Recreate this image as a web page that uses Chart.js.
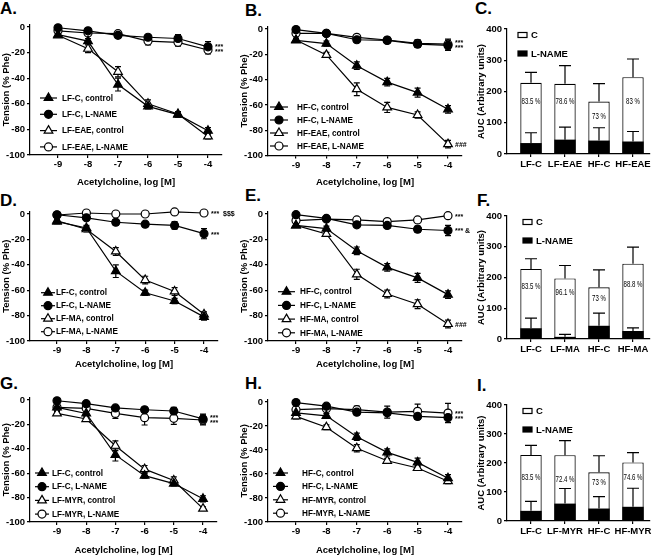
<!DOCTYPE html>
<html>
<head>
<meta charset="utf-8">
<script src="https://cdn.jsdelivr.net/npm/chart.js@4.4.1/dist/chart.umd.min.js"></script>
<style>
  body { margin: 0; background: #fff; width: 658px; height: 556px; position: relative; overflow: hidden; }
  canvas { position: absolute; }
  .lbl { position: absolute; font: bold 17px "Liberation Sans", Arial, sans-serif; line-height: 17px; color: #000; }
</style>
</head>
<body>
<div class="lbl" style="left:0;top:0">A.</div>
<div class="lbl" style="left:245px;top:2px">B.</div>
<div class="lbl" style="left:475px;top:0">C.</div>
<div class="lbl" style="left:0;top:192px">D.</div>
<div class="lbl" style="left:245px;top:187px">E.</div>
<div class="lbl" style="left:477px;top:192px">F.</div>
<div class="lbl" style="left:0;top:375px">G.</div>
<div class="lbl" style="left:245px;top:375px">H.</div>
<div class="lbl" style="left:477px;top:377px">I.</div>

<canvas id="cA"></canvas><canvas id="cB"></canvas><canvas id="cC"></canvas>
<canvas id="cD"></canvas><canvas id="cE"></canvas><canvas id="cF"></canvas>
<canvas id="cG"></canvas><canvas id="cH"></canvas><canvas id="cI"></canvas>

<script>
// Acetylcholine doses, log [M]
const doses = [-9, -8, -7, -6, -5, -4];
const tensionTicks = [0, -20, -40, -60, -80, -100];

// tension (% Phe), mean and SEM
const lfcCtrl = [-6, -11, -45, -62, -68.5, -81];
const lfcCtrlErr = [1.5, 2, 5, 2, 2, 2.5];
const lfcLname = [-0.6, -3, -6.5, -8, -9, -15.5];
const lfcLnameErr = [1.5, 1.5, 2, 2, 3, 4];
const hfcCtrl = [-9, -11.5, -29, -42, -50.3, -63.5];
const hfcCtrlErr = [1.5, 2, 3, 3, 3.5, 3];
const hfcLname = [-0.5, -3.5, -8.5, -9, -12, -13];
const hfcLnameErr = [1.5, 1.5, 2, 2, 2.5, 4];

const lfEaeCtrl = [-6.5, -17, -35, -60, -68, -85.5];
const lfEaeCtrlErr = [1.5, 3, 4, 3, 2, 2];
const lfEaeLname = [-3, -4.7, -5.2, -11, -12, -18];
const lfEaeLnameErr = [1, 1.5, 2, 3, 3, 3];
const hfEaeCtrl = [-8.7, -20.5, -47.6, -62, -68, -91];
const hfEaeCtrlErr = [1.5, 2, 5, 4, 2.5, 3];
const hfEaeLname = [-3.4, -3.4, -6.6, -8.7, -11.3, -12];
const hfEaeLnameErr = [1, 1.5, 2, 2, 3, 4];

const lfMaCtrl = [-5.3, -12, -29.5, -52, -61, -79];
const lfMaCtrlErr = [1.5, 2, 3, 3, 3, 2];
const lfMaLname = [-0.8, 0.8, 0, 0, 1.6, 0.8];
const lfMaLnameErr = [1, 1, 1, 1, 1, 1.5];
const hfMaCtrl = [-9, -15.7, -47.5, -63, -71, -86.6];
const hfMaCtrlErr = [1.5, 2, 4, 3, 3.5, 3];
const hfMaLname = [-5.2, -4, -4.7, -6, -4.7, -1.3];
const hfMaLnameErr = [1, 1, 1.5, 1.5, 1.5, 1.5];

const lfMyrCtrl = [-11, -15.6, -37.5, -56.7, -66, -89];
const lfMyrCtrlErr = [1.5, 1.5, 4, 3, 3, 1.5];
const lfMyrLname = [-6, -6.8, -11, -14.5, -15, -16.4];
const lfMyrLnameErr = [1.5, 2, 4, 6, 5, 4];
const hfMyrCtrl = [-12, -21, -38.5, -49, -55, -66];
const hfMyrCtrlErr = [2, 2, 3, 2, 2, 2];
const hfMyrLname = [-6.4, -5.6, -6.4, -8.4, -7.8, -9.2];
const hfMyrLnameErr = [2, 2, 3, 5, 6, 8];

// AUC (arbitrary units)
const aucTicks = [0, 100, 200, 300, 400];
const catsC = ['LF-C', 'LF-EAE', 'HF-C', 'HF-EAE'];
const totC = [228, 225, 168, 246];
const totCErr = [33, 58, 57, 58];
const lnC = [35, 46, 43, 40];
const lnCErr = [33, 40, 41, 32];
const pctC = ['83.5 %', '78.6 %', '73 %', '83 %'];

const catsF = ['LF-C', 'LF-MA', 'HF-C', 'HF-MA'];
const totF = [228, 197, 168, 245];
const totFErr = [33, 42, 57, 54];
const lnF = [35, 7, 43, 26];
const lnFErr = [33, 8, 41, 10];
const pctF = ['83.5 %', '96.1 %', '73 %', '88.8 %'];

const catsI = ['LF-C', 'LF-MYR', 'HF-C', 'HF-MYR'];
const totI = [228, 227, 168, 202];
const totIErr = [33, 50, 57, 34];
const lnI = [35, 60, 43, 49];
const lnIErr = [33, 52, 41, 64];
const pctI = ['83.5 %', '72.4 %', '73 %', '74.6 %'];

const family = '"Liberation Sans", Arial, sans-serif';
Chart.defaults.font.family = family;
Chart.defaults.color = '#000';

function fnt(size, bold) {
  return { family: family, size: size, weight: bold ? 'bold' : 'normal', lineHeight: 1.2 };
}

function marker(ctx, style, fill, x, y) {
  ctx.beginPath();
  if (style === 'triangle') {
    const r = 5;
    ctx.moveTo(x, y - r);
    ctx.lineTo(x + r * 0.866, y + r * 0.5);
    ctx.lineTo(x - r * 0.866, y + r * 0.5);
    ctx.closePath();
  } else {
    ctx.arc(x, y, 4, 0, Math.PI * 2);
  }
  ctx.fillStyle = fill ? '#000' : '#fff';
  ctx.fill();
  ctx.lineWidth = 1.2;
  ctx.strokeStyle = '#000';
  ctx.stroke();
}

function lineChart(id, g, series, marks, leg) {
  const kx = (g.x4 - g.x9) / 5, ky = (g.y100 - g.y0) / 100;
  const right = g.x4 + 14;
  const top = g.y0 - 2 * ky;
  const cl = g.axisLeft - 30, ct = g.y0 - 32;
  const cw = right + 32 - cl, ch = g.titleY + 6 - ct;
  const cv = document.getElementById(id);
  cv.width = cw; cv.height = ch;
  cv.style.left = cl + 'px'; cv.style.top = ct + 'px';

  const extras = {
    id: 'extras',
    beforeDatasetsDraw(chart) {
      const ctx = chart.ctx, xs = chart.scales.x, ys = chart.scales.y;
      ctx.save();
      ctx.strokeStyle = '#000';
      ctx.lineWidth = 1.2;
      series.forEach(s => {
        doses.forEach((d, j) => {
          const x = xs.getPixelForValue(d);
          const y1 = ys.getPixelForValue(s.y[j] - s.err[j]);
          const y2 = ys.getPixelForValue(s.y[j] + s.err[j]);
          ctx.beginPath();
          ctx.moveTo(x, y1); ctx.lineTo(x, y2);
          ctx.moveTo(x - 3, y1); ctx.lineTo(x + 3, y1);
          ctx.moveTo(x - 3, y2); ctx.lineTo(x + 3, y2);
          ctx.stroke();
        });
      });
      ctx.restore();
    },
    afterDatasetsDraw(chart) {
      const ctx = chart.ctx, xs = chart.scales.x, ys = chart.scales.y;
      ctx.save();
      // legend inside plot
      series.forEach((s, k) => {
        const y = leg.ly + k * leg.dy - ct;
        const x1 = leg.lx - cl, x2 = leg.lx + leg.lw - cl;
        ctx.beginPath();
        ctx.moveTo(x1, y); ctx.lineTo(x2, y);
        ctx.lineWidth = 1.2; ctx.strokeStyle = '#000';
        ctx.stroke();
        marker(ctx, s.style, s.fill, (x1 + x2) / 2, y);
        ctx.fillStyle = '#000';
        ctx.font = 'bold 8.2px ' + family;
        ctx.textBaseline = 'middle';
        ctx.textAlign = 'left';
        ctx.fillText(s.label, leg.tx - cl, y + 0.5);
      });
      // significance marks beside the last dose
      const xEnd = xs.getPixelForValue(-4) + 7;
      const ms = marks.map(m => ({ text: m.text, y: ys.getPixelForValue(series[m.ds].y[5]) }))
        .sort((a, b) => a.y - b.y);
      for (let i = 1; i < ms.length; i++) {
        const gap = ms[i].y - ms[i - 1].y;
        if (gap < 5.5) {
          const d = (5.5 - gap) / 2;
          ms[i - 1].y -= d; ms[i].y += d;
        }
      }
      ctx.font = 'bold 7px ' + family;
      ctx.textBaseline = 'middle';
      ms.forEach(m => ctx.fillText(m.text, xEnd, m.y + 1));
      ctx.restore();
    }
  };

  new Chart(cv, {
    type: 'line',
    data: {
      datasets: series.map(s => ({
        label: s.label,
        data: doses.map((d, i) => ({ x: d, y: s.y[i] })),
        borderColor: '#000',
        borderWidth: 1.2,
        pointStyle: s.style,
        pointRadius: s.style === 'triangle' ? 5 : 4,
        pointBackgroundColor: s.fill ? '#000' : '#fff',
        pointBorderColor: '#000',
        pointBorderWidth: 1.2,
        tension: 0,
        clip: false
      }))
    },
    options: {
      responsive: false,
      animation: false,
      events: [],
      layout: { padding: { left: 0, top: top - ct, right: cl + cw - right, bottom: 0 } },
      plugins: { legend: { display: false }, tooltip: { enabled: false } },
      scales: {
        x: {
          type: 'linear',
          min: -9 - (g.x9 - g.axisLeft) / kx,
          max: -4 + 14 / kx,
          afterBuildTicks: s => { s.ticks = doses.map(v => ({ value: v })); },
          afterFit: s => { s.height = ct + ch - g.y100; },
          grid: { drawOnChartArea: false, tickLength: 3, color: '#000', lineWidth: 1.2 },
          border: { color: '#000', width: 1.2 },
          ticks: { font: fnt(9.5, true), color: '#000', padding: 1, maxRotation: 0 },
          title: { display: true, text: 'Acetylcholine, log [M]', font: fnt(9.5, true), color: '#000', padding: 0 }
        },
        y: {
          min: -100,
          max: 2,
          afterBuildTicks: s => { s.ticks = tensionTicks.map(v => ({ value: v })); },
          afterFit: s => { s.width = g.axisLeft - cl; },
          grid: { drawOnChartArea: false, tickLength: 3, color: '#000', lineWidth: 1.2 },
          border: { color: '#000', width: 1.2 },
          ticks: { font: fnt(9.5, true), color: '#000', padding: 2 },
          title: { display: true, text: 'Tension (% Phe)', font: fnt(9.5, true), color: '#000', padding: { top: 1, bottom: 0 } }
        }
      }
    },
    plugins: [extras]
  });
}

function barChart(id, g, cats, tot, totErr, ln, lnErr, pct) {
  const cl = 476, ct = g.y400 - 25, right = 650;
  const cw = 658 - cl, ch = g.y0 + 20 - ct;
  const kx = (633 - 531) / 3;
  const cv = document.getElementById(id);
  cv.width = cw; cv.height = ch;
  cv.style.left = cl + 'px'; cv.style.top = ct + 'px';

  const extras = {
    id: 'barExtras',
    afterDatasetsDraw(chart) {
      const ctx = chart.ctx, xs = chart.scales.x, ys = chart.scales.y;
      ctx.save();
      ctx.strokeStyle = '#000';
      ctx.lineWidth = 1.2;
      const bar = (i, v, e) => {
        const x = xs.getPixelForValue(i);
        const y1 = ys.getPixelForValue(v), y2 = ys.getPixelForValue(v + e);
        ctx.beginPath();
        ctx.moveTo(x, y1); ctx.lineTo(x, y2);
        ctx.moveTo(x - 6, y2); ctx.lineTo(x + 6, y2);
        ctx.stroke();
      };
      cats.forEach((c, i) => { bar(i, tot[i], totErr[i]); bar(i, ln[i], lnErr[i]); });
      // percentage labels, narrow type
      ctx.fillStyle = '#000';
      ctx.font = '9.5px ' + family;
      ctx.textAlign = 'center';
      ctx.textBaseline = 'middle';
      cats.forEach((c, i) => {
        ctx.save();
        ctx.translate(xs.getPixelForValue(i), ys.getPixelForValue(g.pctAt[i]));
        ctx.scale(0.64, 1);
        ctx.fillText(pct[i], 0, 0);
        ctx.restore();
      });
      // legend
      const ly = ys.top;
      [['C', '#fff'], ['L-NAME', '#000']].forEach((e, k) => {
        const y = ly + 6 + k * 18.5;
        const x = g.legX - cl;
        ctx.fillStyle = e[1];
        ctx.fillRect(x, y - 2.5, 9, 5);
        ctx.strokeRect(x, y - 2.5, 9, 5);
        ctx.fillStyle = '#000';
        ctx.font = 'bold 9.5px ' + family;
        ctx.textAlign = 'left';
        ctx.fillText(e[0], x + 13, y + 0.5);
      });
      ctx.restore();
    }
  };

  new Chart(cv, {
    type: 'bar',
    data: {
      datasets: [
        {
          label: 'C',
          data: tot.map((v, i) => ({ x: i, y: v })),
          backgroundColor: '#fff', borderColor: '#000', borderWidth: 1.2, borderSkipped: false,
          order: 1, grouped: false, barPercentage: 0.63, categoryPercentage: 1
        },
        {
          label: 'L-NAME',
          data: ln.map((v, i) => ({ x: i, y: v })),
          backgroundColor: '#000', borderColor: '#000', borderWidth: 0,
          order: 0, grouped: false, barPercentage: 0.63, categoryPercentage: 1
        }
      ]
    },
    options: {
      responsive: false,
      animation: false,
      events: [],
      layout: { padding: { left: 0, top: g.y400 - ct, right: cl + cw - right, bottom: 0 } },
      plugins: { legend: { display: false }, tooltip: { enabled: false } },
      scales: {
        x: {
          type: 'linear',
          offset: false,
          min: -(531 - 507) / kx,
          max: 3 + (right - 633) / kx,
          afterBuildTicks: s => { s.ticks = cats.map((c, i) => ({ value: i })); },
          afterFit: s => { s.height = ct + ch - g.y0; },
          grid: { drawOnChartArea: false, offset: false, tickLength: 3, color: '#000', lineWidth: 1.2 },
          border: { color: '#000', width: 1.2 },
          ticks: { font: fnt(9.5, true), color: '#000', padding: 2, maxRotation: 0, callback: v => cats[v] }
        },
        y: {
          min: 0,
          max: 400,
          afterBuildTicks: s => { s.ticks = aucTicks.map(v => ({ value: v })); },
          afterFit: s => { s.width = 507 - cl; },
          grid: { drawOnChartArea: false, tickLength: 3, color: '#000', lineWidth: 1.2 },
          border: { color: '#000', width: 1.2 },
          ticks: { font: fnt(9.5, true), color: '#000', padding: 2 },
          title: { display: true, text: 'AUC (Arbitrary units)', font: fnt(9.5, true), color: '#000', padding: 0 }
        }
      }
    },
    plugins: [extras]
  });
}

const S = (label, y, err, style, fill) => ({ label, y, err, style, fill });

lineChart('cA', { axisLeft: 30, x9: 58, x4: 208, y0: 27, y100: 155, titleY: 182 }, [
  S('LF-C, control', lfcCtrl, lfcCtrlErr, 'triangle', true),
  S('LF-C, L-NAME', lfcLname, lfcLnameErr, 'circle', true),
  S('LF-EAE, control', lfEaeCtrl, lfEaeCtrlErr, 'triangle', false),
  S('LF-EAE, L-NAME', lfEaeLname, lfEaeLnameErr, 'circle', false)
], [{ ds: 1, text: '***' }, { ds: 3, text: '***' }],
  { lx: 40, lw: 17, tx: 62, ly: 98, dy: 16.3 });

lineChart('cB', { axisLeft: 268, x9: 296, x4: 448, y0: 29, y100: 156, titleY: 182.5 }, [
  S('HF-C, control', hfcCtrl, hfcCtrlErr, 'triangle', true),
  S('HF-C, L-NAME', hfcLname, hfcLnameErr, 'circle', true),
  S('HF-EAE, control', hfEaeCtrl, hfEaeCtrlErr, 'triangle', false),
  S('HF-EAE, L-NAME', hfEaeLname, hfEaeLnameErr, 'circle', false)
], [{ ds: 1, text: '***' }, { ds: 3, text: '***' }, { ds: 2, text: '###' }],
  { lx: 270, lw: 18, tx: 297, ly: 107, dy: 13 });

lineChart('cD', { axisLeft: 30, x9: 57, x4: 204, y0: 214, y100: 341, titleY: 364 }, [
  S('LF-C, control', lfcCtrl, lfcCtrlErr, 'triangle', true),
  S('LF-C, L-NAME', lfcLname, lfcLnameErr, 'circle', true),
  S('LF-MA, control', lfMaCtrl, lfMaCtrlErr, 'triangle', false),
  S('LF-MA, L-NAME', lfMaLname, lfMaLnameErr, 'circle', false)
], [{ ds: 1, text: '***' }, { ds: 3, text: '***  $$$' }],
  { lx: 41, lw: 14, tx: 56, ly: 292.7, dy: 13 });

lineChart('cE', { axisLeft: 268, x9: 296, x4: 448, y0: 214, y100: 341, titleY: 364 }, [
  S('HF-C, control', hfcCtrl, hfcCtrlErr, 'triangle', true),
  S('HF-C, L-NAME', hfcLname, hfcLnameErr, 'circle', true),
  S('HF-MA, control', hfMaCtrl, hfMaCtrlErr, 'triangle', false),
  S('HF-MA, L-NAME', hfMaLname, hfMaLnameErr, 'circle', false)
], [{ ds: 1, text: '*** &' }, { ds: 3, text: '***' }, { ds: 2, text: '###' }],
  { lx: 278, lw: 17, tx: 300, ly: 291.7, dy: 13.7 });

lineChart('cG', { axisLeft: 30, x9: 57, x4: 203, y0: 400, y100: 522, titleY: 550 }, [
  S('LF-C, control', lfcCtrl, lfcCtrlErr, 'triangle', true),
  S('LF-C, L-NAME', lfcLname, lfcLnameErr, 'circle', true),
  S('LF-MYR, control', lfMyrCtrl, lfMyrCtrlErr, 'triangle', false),
  S('LF-MYR, L-NAME', lfMyrLname, lfMyrLnameErr, 'circle', false)
], [{ ds: 1, text: '***' }, { ds: 3, text: '***' }],
  { lx: 35, lw: 14, tx: 52, ly: 473, dy: 13.7 });

lineChart('cH', { axisLeft: 268, x9: 296, x4: 448, y0: 402, y100: 522, titleY: 550 }, [
  S('HF-C, control', hfcCtrl, hfcCtrlErr, 'triangle', true),
  S('HF-C, L-NAME', hfcLname, hfcLnameErr, 'circle', true),
  S('HF-MYR, control', hfMyrCtrl, hfMyrCtrlErr, 'triangle', false),
  S('HF-MYR, L-NAME', hfMyrLname, hfMyrLnameErr, 'circle', false)
], [{ ds: 1, text: '***' }, { ds: 3, text: '***' }],
  { lx: 273, lw: 15, tx: 302, ly: 473, dy: 13.4 });

barChart('cC', { y400: 29.3, y0: 155, legX: 518, pctAt: [170, 170, 122, 170] },
  catsC, totC, totCErr, lnC, lnCErr, pctC);
barChart('cF', { y400: 216.4, y0: 340, legX: 523, pctAt: [170, 151, 131, 178] },
  catsF, totF, totFErr, lnF, lnFErr, pctF);
barChart('cI', { y400: 404.9, y0: 521.3, legX: 523, pctAt: [149, 145, 132, 149] },
  catsI, totI, totIErr, lnI, lnIErr, pctI);
</script>
</body>
</html>
